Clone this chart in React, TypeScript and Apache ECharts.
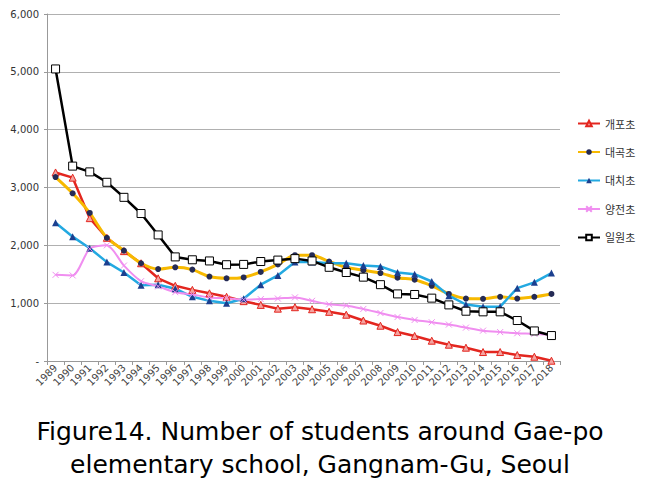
import React, { useEffect, useRef } from "react";
import * as echarts from "echarts";

const years = [
  "1989", "1990", "1991", "1992", "1993", "1994", "1995", "1996", "1997", "1998",
  "1999", "2000", "2001", "2002", "2003", "2004", "2005", "2006", "2007", "2008",
  "2009", "2010", "2011", "2012", "2013", "2014", "2015", "2016", "2017", "2018",
];

const seriesNames = ["개포초", "대곡초", "대치초", "양전초", "일원초"];

const gaepo = [
  3260, 3170, 2470, 2130, 1900, 1690, 1430, 1300, 1230, 1170,
  1110, 1035, 970, 905, 930, 895, 850, 800, 700, 610,
  500, 433, 351, 282, 230, 155, 155, 103, 74, 5,
];
const daegok = [
  3180, 2900, 2560, 2130, 1910, 1690, 1590, 1620, 1580, 1460,
  1430, 1445, 1540, 1670, 1830, 1830, 1720, 1620, 1570, 1520,
  1440, 1405, 1300, 1160, 1080, 1075, 1110, 1080, 1110, 1160,
];
const daechi = [
  2390, 2150, 1950, 1710, 1530, 1310, 1320, 1250, 1110, 1040,
  1000, 1075, 1320, 1480, 1710, 1710, 1690, 1690, 1650, 1635,
  1530, 1500, 1375, 1130, 977, 940, 940, 1260, 1360, 1520,
];
const yangjeon = [
  1490, 1480, 1940, 2000, 1650, 1380, 1290, 1190, 1150, 1100,
  1085, 1060, 1070, 1080, 1100, 1040, 980, 960, 900, 830,
  760, 710, 670, 630, 577, 525, 500, 480, 470, 450,
];
const irwon = [
  5050, 3370, 3270, 3090, 2830, 2550, 2180, 1800, 1750, 1730,
  1665, 1670, 1720, 1745, 1770, 1730, 1620, 1530, 1450, 1320,
  1160, 1150, 1087, 970, 861, 850, 850, 700, 520, 440,
];

const titleLines = [
  "Figure14. Number of students around Gae-po",
  "elementary school, Gangnam-Gu, Seoul",
];

export default function App() {
  const ref = useRef<HTMLDivElement>(null);

  useEffect(() => {
    document.body.style.margin = "0";
    if (!ref.current) return;
    const chart = echarts.init(ref.current, null, { renderer: "svg" });
    const option: any = {
      animation: false,
      backgroundColor: "#ffffff",
      grid: { left: 47, right: 85, top: 14, bottom: 123, containLabel: false },
      legend: {
        orient: "vertical",
        left: 572,
        top: 113,
        itemWidth: 22,
        itemHeight: 7,
        itemGap: 17.5,
        textStyle: { fontFamily: "Noto Sans CJK KR", fontSize: 11, color: "#333" },
        data: seriesNames,
      },
      xAxis: {
        type: "category",
        data: years,
        boundaryGap: true,
        axisLine: { lineStyle: { color: "#999", width: 1 } },
        axisTick: { show: true, length: 4, lineStyle: { color: "#999" } },
        axisLabel: {
          interval: 0,
          rotate: 45,
          margin: 5,
          fontFamily: "DejaVu Sans",
          fontSize: 10,
          color: "#444",
        },
      },
      yAxis: {
        type: "value",
        min: 0,
        max: 6000,
        interval: 1000,
        axisLine: { show: true, lineStyle: { color: "#999", width: 1 } },
        axisTick: { show: true, length: 3, lineStyle: { color: "#999" } },
        splitLine: { lineStyle: { color: "#b0b0b0", width: 1 } },
        axisLabel: {
          margin: 8,
          fontFamily: "DejaVu Sans",
          fontSize: 10,
          color: "#333",
          formatter: (v: number) => (v === 0 ? "-" : v.toLocaleString("en-US")),
        },
      },
      series: [
        {
          name: seriesNames[0],
          type: "line",
          data: gaepo,
          symbol: "triangle",
          symbolSize: 7,
          lineStyle: { color: "#e3261f", width: 2.5 },
          itemStyle: { color: "#f4a3a0", borderColor: "#e3261f", borderWidth: 1 },
        },
        {
          name: seriesNames[1],
          type: "line",
          data: daegok,
          smooth: 0.25,
          symbol: "circle",
          symbolSize: 6,
          lineStyle: { color: "#f7b900", width: 3 },
          itemStyle: { color: "#252b55", borderColor: "#252b55", borderWidth: 0 },
        },
        {
          name: seriesNames[2],
          type: "line",
          data: daechi,
          symbol: "triangle",
          symbolSize: 7,
          lineStyle: { color: "#23a9e1", width: 2.5 },
          itemStyle: { color: "#1c3f8f", borderColor: "#1c3f8f", borderWidth: 0 },
        },
        {
          name: seriesNames[3],
          type: "line",
          data: yangjeon,
          smooth: 0.25,
          symbol: "path://M0,0L10,10M10,0L0,10",
          symbolSize: 6,
          lineStyle: { color: "#f08ef0", width: 2 },
          itemStyle: { color: "#f08ef0", borderColor: "#f08ef0", borderWidth: 1 },
        },
        {
          name: seriesNames[4],
          type: "line",
          data: irwon,
          symbol: "rect",
          symbolSize: 8,
          lineStyle: { color: "#000000", width: 2.5 },
          itemStyle: { color: "#ffffff", borderColor: "#000000", borderWidth: 1 },
        },
      ],
      graphic: titleLines.map((t, i) => ({
        type: "text",
        x: 320,
        y: 431 + i * 33,
        style: {
          text: t,
          fontFamily: "DejaVu Sans",
          fontSize: 25,
          fill: "#000",
          align: "center",
          verticalAlign: "middle",
        },
      })),
    };
    chart.setOption(option);
    return () => chart.dispose();
  }, []);

  return (
    <div
      ref={ref}
      style={{ position: "absolute", left: 0, top: 0, width: 645, height: 484 }}
    />
  );
}
